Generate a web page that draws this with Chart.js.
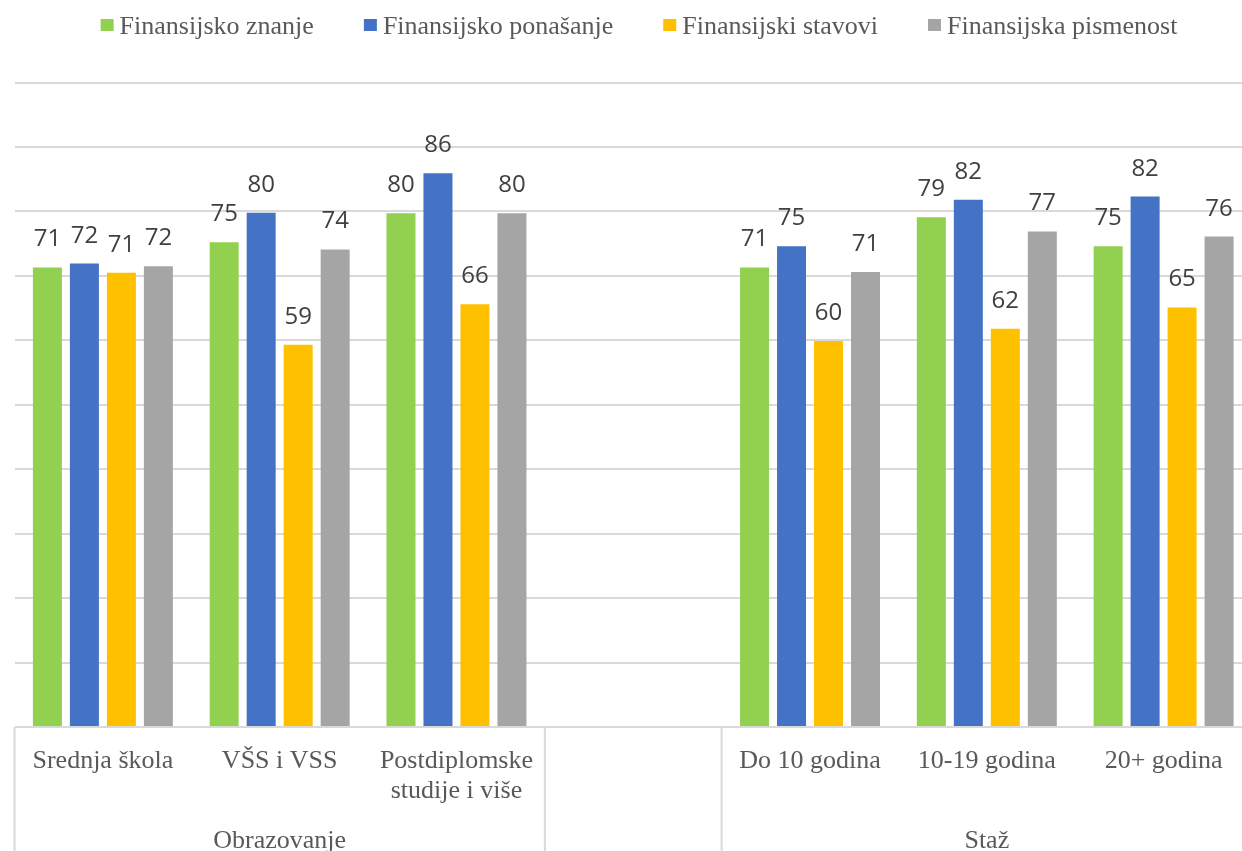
<!DOCTYPE html>
<html>
<head>
<meta charset="utf-8">
<script src="https://cdn.jsdelivr.net/npm/chart.js@4/dist/chart.umd.min.js"></script>
<style>
  html, body { margin: 0; padding: 0; background: #fff; overflow: hidden; }
  #wrap { position: absolute; left: 0; top: 0; width: 1256px; height: 880px; }
</style>
</head>
<body>
<div id="wrap"><canvas id="chart"></canvas></div>
<script>
// Categories (index 3 is the empty gap between the two groups)
const categories = ['Srednja škola', 'VŠS i VSS', ['Postdiplomske', 'studije i više'], '', 'Do 10 godina', '10-19 godina', '20+ godina'];
const groupLabels = ['', 'Obrazovanje', '', '', '', 'Staž', ''];
const groupBreaks = [0, 3, 4, 7]; // category boundaries that get a divider line

const seriesNames = ['Finansijsko znanje', 'Finansijsko ponašanje', 'Finansijski stavovi', 'Finansijska pismenost'];
const znanje     = [71.3, 75.2, 79.7, null, 71.3, 79.1, 74.6];
const ponasanje  = [71.9, 79.8, 85.9, null, 74.6, 81.8, 82.3];
const stavovi    = [70.5, 59.3, 65.6, null, 59.9, 61.8, 65.1];
const pismenost  = [71.5, 74.1, 79.7, null, 70.6, 76.9, 76.1];

const colors = ['#92D050', '#4472C4', '#FFC000', '#A5A5A5'];
const GRID = '#D9D9D9';
const SERIF = '"Liberation Serif", "Times New Roman", serif';

// value labels above every bar
const valueLabels = {
  id: 'valueLabels',
  afterDatasetsDraw(chart) {
    const ctx = chart.ctx;
    ctx.save();
    ctx.font = '24px "Open Sans", sans-serif';
    ctx.fillStyle = '#404040';
    ctx.textAlign = 'center';
    ctx.textBaseline = 'alphabetic';
    chart.data.datasets.forEach((ds, i) => {
      chart.getDatasetMeta(i).data.forEach((bar, j) => {
        const v = ds.data[j];
        if (v == null) return;
        ctx.fillText(Math.round(v), bar.x, bar.y - 21);
      });
    });
    ctx.restore();
  }
};

// vertical dividers under the axis between the groups
const groupDividers = {
  id: 'groupDividers',
  afterDraw(chart) {
    const xs = chart.scales.x;
    const half = (xs.getPixelForValue(1) - xs.getPixelForValue(0)) / 2;
    const ctx = chart.ctx;
    ctx.save();
    ctx.strokeStyle = GRID;
    ctx.lineWidth = 2;
    groupBreaks.forEach(k => {
      const px = xs.getPixelForValue(k) - half;
      ctx.beginPath();
      ctx.moveTo(px, chart.chartArea.bottom);
      ctx.lineTo(px, chart.height);
      ctx.stroke();
    });
    ctx.restore();
  }
};

// legend row at the top (Excel style: small square, short gap, serif text)
const topLegend = {
  id: 'topLegend',
  afterDraw(chart) {
    const ctx = chart.ctx;
    ctx.save();
    ctx.font = '26px ' + SERIF;
    const box = 13, gap = 6, spacing = 50;
    const widths = seriesNames.map(n => ctx.measureText(n).width);
    const total = widths.reduce((a, w) => a + box + gap + w, 0) + spacing * (seriesNames.length - 1);
    let x = 639 - total / 2;
    seriesNames.forEach((n, i) => {
      ctx.fillStyle = colors[i];
      ctx.fillRect(x, 19, box, 12);
      ctx.fillStyle = '#595959';
      ctx.textBaseline = 'alphabetic';
      ctx.fillText(n, x + box + gap, 34);
      x += box + gap + widths[i] + spacing;
    });
    ctx.restore();
  }
};

const seriesData = [znanje, ponasanje, stavovi, pismenost];

new Chart(document.getElementById('chart'), {
  type: 'bar',
  data: {
    labels: categories,
    datasets: seriesNames.map((name, i) => ({
      label: name,
      data: seriesData[i],
      backgroundColor: colors[i],
      borderWidth: 0,
      categoryPercentage: 0.837,
      barPercentage: 0.784
    }))
  },
  options: {
    responsive: true,
    maintainAspectRatio: false,
    animation: false,
    layout: { padding: { left: 14.5, top: 82.5, right: 4, bottom: 3 } },
    plugins: { legend: { display: false }, tooltip: { enabled: false } },
    scales: {
      x: {
        weight: 0,
        grid: { display: false },
        border: { display: false },
        ticks: {
          autoSkip: false, maxRotation: 0, padding: 11,
          color: '#595959',
          font: { family: SERIF, size: 26, lineHeight: 1.16 }
        },
        afterFit: s => { s.height = 90; }
      },
      x2: {
        type: 'category',
        position: 'bottom',
        weight: 1,
        labels: groupLabels,
        offset: true,
        grid: { display: false },
        border: { display: false },
        ticks: {
          autoSkip: false, maxRotation: 0, padding: 1,
          color: '#595959',
          font: { family: SERIF, size: 26, lineHeight: 1.16 }
        },
        afterFit: s => { s.height = 60; }
      },
      y: {
        min: 0, max: 100,
        ticks: { display: false, stepSize: 10 },
        grid: { color: GRID, lineWidth: 2, drawTicks: false },
        border: { display: false },
        afterFit: s => { s.width = 0; }
      }
    }
  },
  plugins: [valueLabels, groupDividers, topLegend]
});
</script>
</body>
</html>
